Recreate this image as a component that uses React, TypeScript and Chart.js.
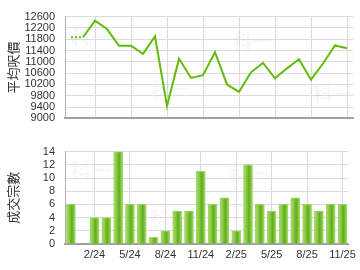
import React, { useEffect, useRef } from "react";
import { Chart, registerables } from "chart.js";

Chart.register(...registerables);

const months = ["12/23","1/24","2/24","3/24","4/24","5/24","6/24","7/24","8/24","9/24","10/24","11/24","12/24","1/25","2/25","3/25","4/25","5/25","6/25","7/25","8/25","9/25","10/25","11/25"];
const avgPrice = [11870, 11870, 12460, 12160, 11570, 11570, 11280, 11900, 9440, 11110, 10430, 10530, 11340, 10200, 9940, 10630, 10960, 10420, 10770, 11090, 10370, 10940, 11580, 11480];
const volume = [6, 0, 4, 4, 14, 6, 6, 1, 2, 5, 5, 11, 6, 7, 2, 12, 6, 5, 6, 7, 6, 5, 6, 6];
const tickLabels = ["2/24","5/24","8/24","11/24","2/25","5/25","8/25","11/25"];
const priceTitle = "平均呎價";
const volumeTitle = "成交宗數";
const watermark = "科一";

const FONT = "'Liberation Sans', Arial, sans-serif";
const CJK = "'Noto Sans CJK TC', 'Noto Sans CJK SC', sans-serif";
const GRID = "#dcdcdc";

const watermarkPlugin = {
  id: "wm",
  beforeDatasetsDraw(chart: any) {
    const { ctx, chartArea: a } = chart;
    ctx.save();
    ctx.font = `bold 20px ${CJK}`;
    ctx.fillStyle = "rgba(0,0,0,0.03)";
    ctx.textAlign = "center";
    ctx.textBaseline = "middle";
    const w = a.right - a.left;
    const h = a.bottom - a.top;
    const spots = [[0.09, 0.2], [0.37, 0.72], [0.65, 0.24], [0.93, 0.76]];
    for (const [fx, fy] of spots) ctx.fillText(watermark, a.left + w * fx, a.top + h * fy);
    ctx.restore();
  },
};

function xScale(showLabels: boolean, height: number) {
  return {
    type: "category" as const,
    offset: true,
    afterFit: (s: any) => { s.height = height; },
    grid: {
      offset: false,
      drawTicks: false,
      color: (c: any) => (tickLabels.includes(months[c.index]) ? GRID : "rgba(0,0,0,0)"),
      lineWidth: 1,
    },
    border: { display: true, color: "#a0a0a0", width: 2 },
    ticks: {
      display: showLabels,
      autoSkip: false,
      maxRotation: 0,
      padding: 4,
      color: "#333",
      font: { family: FONT, size: 11 },
      callback: (v: any, i: number) => (tickLabels.includes(months[i]) ? months[i] : ""),
    },
  };
}

function yScale(min: number, max: number, step: number, title: string) {
  return {
    min,
    max,
    afterFit: (s: any) => { s.width = 65; },
    grid: { color: GRID, drawTicks: false },
    border: { display: true, color: "#b0b0b0", width: 1 },
    ticks: {
      stepSize: step,
      autoSkip: false,
      padding: 10,
      color: "#333",
      font: { family: FONT, size: 11 },
      callback: (v: any) => String(v),
    },
    title: {
      display: true,
      text: title,
      color: "#333",
      padding: { top: 5, bottom: 0 },
      font: { family: CJK, size: 13 },
    },
  };
}

export default function App() {
  const topRef = useRef<HTMLCanvasElement>(null);
  const botRef = useRef<HTMLCanvasElement>(null);

  useEffect(() => {
    const top = new Chart(topRef.current!, {
      type: "line",
      data: {
        labels: months,
        datasets: [
          {
            data: avgPrice,
            borderColor: "#62bb0a",
            borderWidth: 2,
            pointRadius: 0,
            tension: 0,
            segment: {
              borderDash: (c: any) => (volume[c.p1DataIndex] === 0 ? [2, 2] : undefined),
            },
          },
        ],
      },
      options: {
        animation: false,
        responsive: false,
        devicePixelRatio: 1,
        layout: { padding: { top: 7, right: 7, bottom: 5, left: 0 } },
        plugins: { legend: { display: false }, tooltip: { enabled: false } },
        scales: {
          x: xScale(false, 0),
          y: yScale(9000, 12600, 400, priceTitle),
        },
      } as any,
      plugins: [watermarkPlugin],
    });

    const barFill = (c: any) => {
      const chart = c.chart;
      const sx = chart.scales?.x;
      if (!sx || c.dataIndex === undefined) return "#8cc63f";
      const x = sx.getPixelForValue(c.dataIndex);
      if (!isFinite(x)) return "#8cc63f";
      const g = chart.ctx.createLinearGradient(x - 4.5, 0, x + 4.5, 0);
      g.addColorStop(0, "#a6db6b");
      g.addColorStop(0.3, "#8fcb47");
      g.addColorStop(0.6, "#5fae1c");
      g.addColorStop(0.85, "#86c940");
      g.addColorStop(1, "#a6db6b");
      return g;
    };

    const bot = new Chart(botRef.current!, {
      type: "bar",
      data: {
        labels: months,
        datasets: [
          {
            data: volume,
            backgroundColor: barFill,
            borderColor: "#9fd66a",
            borderWidth: 1,
            borderSkipped: "bottom",
            barThickness: 9,
          },
        ],
      },
      options: {
        animation: false,
        responsive: false,
        devicePixelRatio: 1,
        layout: { padding: { top: 12, right: 7, bottom: 0, left: 0 } },
        plugins: { legend: { display: false }, tooltip: { enabled: false } },
        scales: {
          x: xScale(true, 26),
          y: yScale(0, 14, 2, volumeTitle),
        },
      } as any,
      plugins: [watermarkPlugin],
    });

    return () => {
      top.destroy();
      bot.destroy();
    };
  }, []);

  return (
    <div style={{ position: "fixed", left: 0, top: 0, width: 360, height: 270, background: "#fff" }}>
      <canvas ref={topRef} width={360} height={135} style={{ position: "absolute", left: 0, top: 0, width: 360, height: 135 }} />
      <canvas ref={botRef} width={360} height={135} style={{ position: "absolute", left: 0, top: 135, width: 360, height: 135 }} />
    </div>
  );
}
